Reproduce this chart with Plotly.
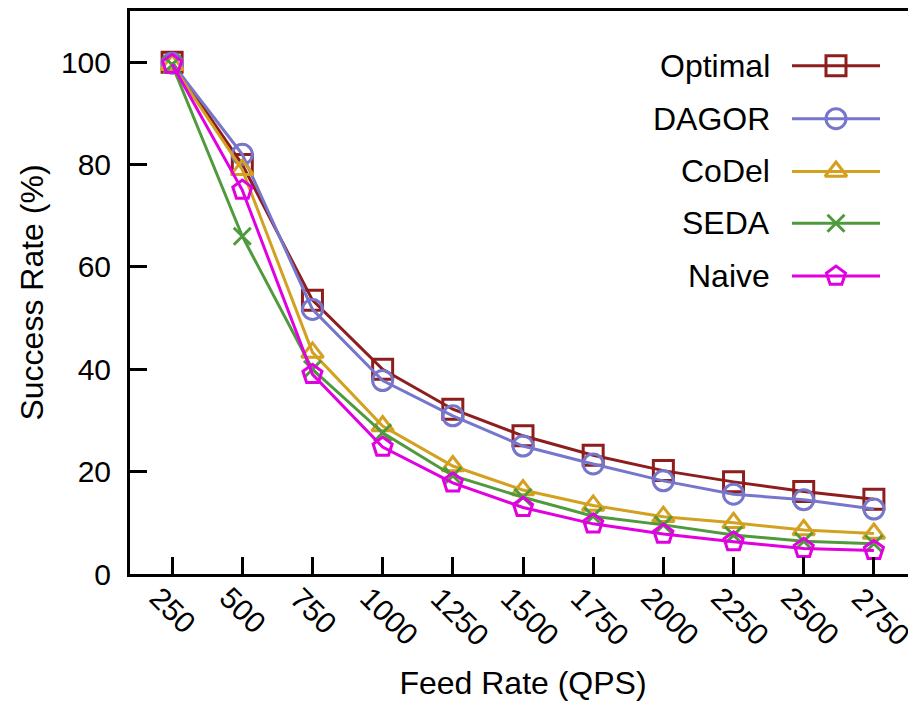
import plotly.graph_objects as go

feed_rate = [250, 500, 750, 1000, 1250, 1500, 1750, 2000, 2250, 2500, 2750]
tick_labels = ["250", "500", "750", "1000", "1250", "1500", "1750", "2000", "2250", "2500", "2750"]

optimal = [100, 80, 53.5, 40, 32.2, 27, 23.2, 20.2, 18.0, 16.1, 14.6]
dagor = [99.8, 82, 51.7, 37.8, 30.9, 25.0, 21.5, 18.2, 15.6, 14.5, 12.7]
codel = [99.5, 79, 43.3, 28.9, 21.1, 16.4, 13.4, 11.2, 10.0, 8.6, 7.9]
seda = [99.5, 66, 40, 27.6, 19.2, 15.0, 11.3, 9.6, 7.6, 6.4, 5.9]
naive = [99.6, 75, 39, 24.8, 17.8, 13.0, 9.8, 7.8, 6.3, 5.0, 4.6]

series_names = ["Optimal", "DAGOR", "CoDel", "SEDA", "Naive"]
series_values = [optimal, dagor, codel, seda, naive]
colors = ["#8E1E1E", "#7676CC", "#D4A020", "#4F9A3C", "#E000E0"]
symbols = ["square-open", "circle-open", "triangle-up-open", "x-thin-open", "pentagon-open"]
sizes = [20, 20, 19, 17, 20]

FONT = "Liberation Sans, Arial, Helvetica, sans-serif"
TICK_SIZE = 30
TEXT_SIZE = 32

fig = go.Figure()
for name, vals, c, s, sz in zip(series_names, series_values, colors, symbols, sizes):
    fig.add_trace(go.Scatter(
        x=feed_rate, y=vals, name=name, mode="lines+markers",
        line=dict(color=c, width=3),
        marker=dict(symbol=s, size=sz, color=c, line=dict(color=c, width=3)),
        showlegend=False, cliponaxis=False,
    ))

# custom legend (text on the left, sample on the right)
leg_text_x = 0.8168
leg_line = (0.8422, 0.9542)
leg_mark_x = 0.8982
leg_rows = [0.9027, 0.8088, 0.7150, 0.6230, 0.5292]
for name, c, s, sz, ly in zip(series_names, colors, symbols, sizes, leg_rows):
    fig.add_shape(type="line", xref="paper", yref="paper",
                  x0=leg_line[0], x1=leg_line[1], y0=ly, y1=ly,
                  line=dict(color=c, width=3))
    fig.add_trace(go.Scatter(
        x=[leg_mark_x], y=[ly], xaxis="x2", yaxis="y2", mode="markers",
        marker=dict(symbol=s, size=sz, color=c, line=dict(color=c, width=3)),
        showlegend=False, hoverinfo="skip", cliponaxis=False,
    ))
    fig.add_annotation(x=leg_text_x, y=ly, xref="paper", yref="paper",
                       text=name, showarrow=False, xanchor="right", yanchor="middle",
                       font=dict(family=FONT, size=TEXT_SIZE, color="black"))

# rotated x tick labels
for v, t in zip(feed_rate, tick_labels):
    fig.add_annotation(x=v, y=0, xref="x", yref="paper", text=t, showarrow=False,
                       textangle=45, xanchor="left", yanchor="top",
                       xshift=-31, yshift=-4,
                       font=dict(family=FONT, size=TICK_SIZE, color="black"))

fig.update_layout(
    width=908, height=693,
    margin=dict(l=122, r=0, t=1, b=127),
    plot_bgcolor="white", paper_bgcolor="white",
    font=dict(family=FONT, size=TEXT_SIZE, color="black"),
    xaxis=dict(
        range=[100, 2900], tickvals=feed_rate, showticklabels=False,
        ticks="inside", ticklen=17, tickwidth=3, tickcolor="black",
        showline=True, linewidth=3, linecolor="black", mirror=True,
        showgrid=False, zeroline=False,
        title=dict(text="Feed Rate (QPS)", standoff=96, font=dict(size=TEXT_SIZE)),
    ),
    yaxis=dict(
        range=[0, 110], tickvals=[0, 20, 40, 60, 80, 100],
        ticks="inside", ticklen=17, tickwidth=3, tickcolor="black",
        showline=True, linewidth=3, linecolor="black", mirror=False,
        showgrid=False, zeroline=False, ticklabelstandoff=10,
        tickfont=dict(size=TICK_SIZE),
        title=dict(text="Success Rate (%)", standoff=8, font=dict(size=TEXT_SIZE)),
    ),
    xaxis2=dict(range=[0, 1], overlaying="x", visible=False, fixedrange=True),
    yaxis2=dict(range=[0, 1], overlaying="y", visible=False, fixedrange=True),
)

fig.write_html("out.html")
